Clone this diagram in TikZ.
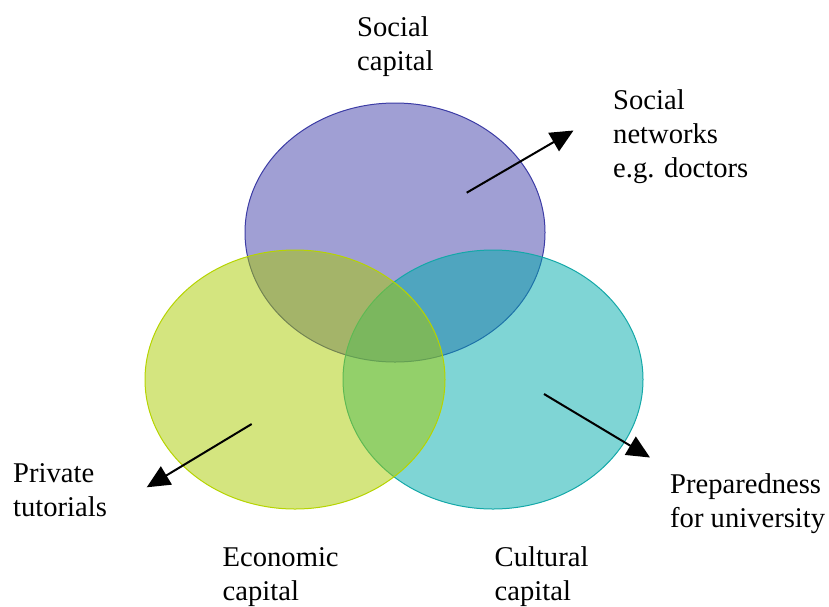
\documentclass[tikz,border=0pt]{standalone}
\usepackage{fontspec}
\setmainfont{Liberation Serif}
\usetikzlibrary{arrows.meta,shapes.geometric}
\definecolor{purpfill}{RGB}{65,63,169}
\definecolor{purpedge}{RGB}{60,60,165}
\definecolor{tealfill}{RGB}{0,171,171}
\definecolor{tealedge}{RGB}{20,168,168}
\definecolor{yelfill}{RGB}{169,203,0}
\definecolor{yeledge}{RGB}{182,212,0}
\begin{document}
\begin{tikzpicture}[x=1pt,y=-1pt,
  capcircle/.style={ellipse, minimum width=300pt, minimum height=259pt, inner sep=0pt, fill opacity=0.5, line width=1pt},
  lbl/.style={anchor=base west, align=left, inner sep=0pt, font=\fontsize{28.6}{34}\selectfont},
  pointer/.style={line width=2pt, -{Triangle[length=23pt,width=21pt]}}]
\useasboundingbox (0,0) rectangle (829,606);
\node[capcircle, fill=purpfill, draw=purpedge] (soc) at (395,232.5) {};
\node[capcircle, fill=tealfill, draw=tealedge] (cul) at (493,379.5) {};
\node[capcircle, fill=yelfill, draw=yeledge] (eco) at (295,379.5) {};
\node[lbl] (tsoc) at (357,70) {Social\\capital};
\node[lbl] (tnet) at (613,177) {Social\\networks\\e.g. doctors};
\node[lbl] (tpriv) at (13,516) {Private\\tutorials};
\node[lbl] (tprep) at (670,527) {Preparedness\\for university};
\node[lbl] (teco) at (222.5,600) {Economic\\capital};
\node[lbl] (tcul) at (494.5,600) {Cultural\\capital};
\coordinate (a1s) at (466.7,192.7);
\coordinate (a1e) at (573.5,130.5);
\coordinate (a2s) at (251.7,424);
\coordinate (a2e) at (146.7,487.3);
\coordinate (a3s) at (544,394);
\coordinate (a3e) at (650,457.5);
\draw[pointer] (a1s) -- (a1e);
\draw[pointer] (a2s) -- (a2e);
\draw[pointer] (a3s) -- (a3e);
\end{tikzpicture}
\end{document}
